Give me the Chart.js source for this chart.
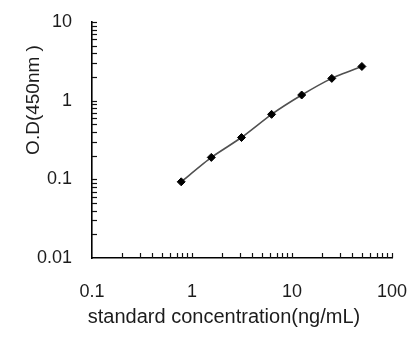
<!DOCTYPE html>
<html>
<head>
<meta charset="utf-8">
<script src="https://cdn.jsdelivr.net/npm/chart.js@4"></script>
<style>
  html, body { margin: 0; padding: 0; background: #fff; }
  #wrap { width: 415px; height: 352px; position: relative; }
</style>
</head>
<body>
<div id="wrap"><canvas id="curveChart"></canvas></div>
<script>
// standard curve data
const concentrations = [0.78, 1.56, 3.125, 6.25, 12.5, 25, 50];
const odValues = [0.093, 0.19, 0.34, 0.67, 1.18, 1.92, 2.72];
const xTickValues = [0.1, 1, 10, 100];
const yTickValues = [0.01, 0.1, 1, 10];

const xTitle = 'standard concentration(ng/mL)';
const yTitle = 'O.D(450nm )';

const textColor = '#1c1c1c';
const fontFamily = "'Liberation Sans', Arial, sans-serif";

// minor ticks drawn inward on both axes, plus the axis titles
const axisExtras = {
    id: 'axisExtras',
    afterDraw(chart) {
        const ctx = chart.ctx;
        const area = chart.chartArea;
        const xs = chart.scales.x;
        const ys = chart.scales.y;
        const len = 5;

        ctx.save();
        ctx.strokeStyle = '#111';
        ctx.lineWidth = 1.2;

        function eachLogTick(scale, cb) {
            const lo = Math.floor(Math.log10(scale.min));
            const hi = Math.ceil(Math.log10(scale.max));
            for (let e = lo; e <= hi; e++) {
                for (let k = 1; k <= 9; k++) {
                    const v = k * Math.pow(10, e);
                    if (v > scale.min * 1.0001 && v <= scale.max * 1.0001) {
                        cb(scale.getPixelForValue(v));
                    }
                }
            }
        }

        eachLogTick(xs, px => {
            ctx.beginPath();
            ctx.moveTo(Math.round(px) + 0.5, area.bottom);
            ctx.lineTo(Math.round(px) + 0.5, area.bottom - len);
            ctx.stroke();
        });
        eachLogTick(ys, py => {
            ctx.beginPath();
            ctx.moveTo(area.left, Math.round(py) + 0.5);
            ctx.lineTo(area.left + len, Math.round(py) + 0.5);
            ctx.stroke();
        });

        ctx.fillStyle = textColor;
        ctx.textAlign = 'center';
        ctx.textBaseline = 'middle';

        // x axis title (sits a little left of the axis centre in the original)
        ctx.font = '20px ' + fontFamily;
        ctx.fillText(xTitle, 224, 317);

        // y axis title
        ctx.font = '19px ' + fontFamily;
        ctx.translate(34, 100);
        ctx.rotate(-Math.PI / 2);
        ctx.fillText(yTitle, 0, 0);
        ctx.restore();
    }
};

const ctx = document.getElementById('curveChart').getContext('2d');
const curveChart = new Chart(ctx, {
    type: 'line',
    data: {
        datasets: [{
            data: concentrations.map((c, i) => ({ x: c, y: odValues[i] })),
            borderColor: '#505050',
            borderWidth: 1.6,
            tension: 0.2,
            pointStyle: 'rectRot',
            pointRadius: 4,
            pointBackgroundColor: '#000',
            pointBorderColor: '#000',
            pointBorderWidth: 1
        }]
    },
    options: {
        responsive: true,
        maintainAspectRatio: false,
        animation: false,
        layout: {
            padding: { left: 0, right: 23, top: 22, bottom: 0 }
        },
        plugins: {
            legend: { display: false },
            tooltip: { enabled: false }
        },
        scales: {
            x: {
                type: 'logarithmic',
                min: 0.1,
                max: 100,
                afterBuildTicks: scale => {
                    scale.ticks = xTickValues.map(v => ({ value: v }));
                },
                afterFit: scale => {
                    scale.height = 94;
                    scale.paddingLeft = 0;
                    scale.paddingRight = 0;
                },
                grid: { drawOnChartArea: false, drawTicks: false },
                border: { display: true, color: '#000', width: 1.6 },
                ticks: {
                    autoSkip: false,
                    maxRotation: 0,
                    padding: 23,
                    color: textColor,
                    font: { family: fontFamily, size: 18 },
                    callback: v => String(v)
                }
            },
            y: {
                type: 'logarithmic',
                min: 0.01,
                max: 10,
                afterBuildTicks: scale => {
                    scale.ticks = yTickValues.map(v => ({ value: v }));
                },
                afterFit: scale => {
                    scale.width = 92;
                    scale.paddingTop = 0;
                    scale.paddingBottom = 0;
                },
                grid: { drawOnChartArea: false, drawTicks: false },
                border: { display: true, color: '#000', width: 1.6 },
                ticks: {
                    autoSkip: false,
                    padding: 20,
                    color: textColor,
                    font: { family: fontFamily, size: 18 },
                    callback: v => String(v)
                }
            }
        }
    },
    plugins: [axisExtras]
});
</script>
</body>
</html>
